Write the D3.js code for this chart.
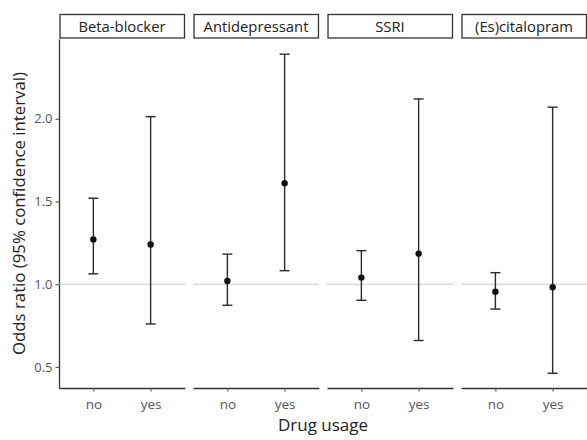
<!DOCTYPE html>
<html>
<head>
<meta charset="utf-8">
<script src="https://cdn.jsdelivr.net/npm/d3@7"></script>
<style>
  body { margin: 0; background: #fff; }
  text { font-family: "Open Sans", "Noto Sans", sans-serif; }
</style>
</head>
<body>
<div id="chart"></div>
<script>
const drugs = ['Beta-blocker', 'Antidepressant', 'SSRI', '(Es)citalopram'];
const usage = ['no', 'yes'];
// odds ratio and 95% CI per drug, in usage order (no, yes)
const oddsRatio = [[1.27, 1.24], [1.02, 1.61], [1.04, 1.185], [0.955, 0.982]];
const lowerCI  = [[1.063, 0.76], [0.873, 1.082], [0.903, 0.66], [0.85, 0.462]];
const upperCI  = [[1.52, 2.013], [1.182, 2.39], [1.203, 2.12], [1.07, 2.07]];
const yTicks = [0.5, 1.0, 1.5, 2.0];

const width = 587;
const height = 440;
const margin = { top: 39, right: 0, bottom: 52, left: 59 };

const svg = d3.select('#chart')
  .append('svg')
  .attr('width', width)
  .attr('height', height);

const facet = d3.scaleBand()
  .domain(drugs)
  .range([margin.left, width - margin.right])
  .paddingInner(0.06)
  .paddingOuter(0);

const x = d3.scalePoint()
  .domain(usage)
  .range([0, facet.bandwidth()])
  .padding(0.6);

const y = d3.scaleLinear()
  .domain([0.373, 2.482])
  .range([height - margin.bottom, margin.top]);

const axisColor = '#333';
const barColor = '#2b2b2b';

// y axis on the first panel only
const yAxis = svg.append('g')
  .attr('transform', 'translate(' + margin.left + ',0)')
  .call(d3.axisLeft(y).tickValues(yTicks).tickFormat(d3.format('.1f'))
    .tickSize(3.5).tickSizeOuter(0).tickPadding(3));
yAxis.select('.domain').attr('stroke', axisColor).attr('stroke-width', 1.3);
yAxis.selectAll('.tick line').attr('stroke', '#555').attr('stroke-width', 1.1);
yAxis.selectAll('.tick text').attr('fill', '#555').style('font-size', '13px');

const data = [];
drugs.forEach((d, i) => {
  usage.forEach((u, j) => {
    data.push({ drug: d, usage: u, or: oddsRatio[i][j], lo: lowerCI[i][j], hi: upperCI[i][j] });
  });
});

drugs.forEach(drug => {
  const g = svg.append('g')
    .attr('transform', 'translate(' + facet(drug) + ',0)');

  // strip label
  g.append('rect')
    .attr('x', 1)
    .attr('y', 14.5)
    .attr('width', facet.bandwidth() - 1.5)
    .attr('height', 23.5)
    .attr('fill', '#fff')
    .attr('stroke', axisColor)
    .attr('stroke-width', 1.3);
  g.append('text')
    .attr('x', facet.bandwidth() / 2)
    .attr('y', 31.5)
    .attr('text-anchor', 'middle')
    .attr('fill', '#222')
    .style('font-size', '14.8px')
    .text(drug);

  // reference line at OR = 1
  g.append('line')
    .attr('x1', 0)
    .attr('x2', facet.bandwidth())
    .attr('y1', y(1))
    .attr('y2', y(1))
    .attr('stroke', '#d3c6c9')
    .attr('stroke-width', 1.2);

  // x axis
  const xa = g.append('g')
    .attr('transform', 'translate(0,' + (height - margin.bottom) + ')')
    .call(d3.axisBottom(x).tickSize(3.5).tickSizeOuter(0).tickPadding(8));
  xa.select('.domain').attr('stroke', axisColor).attr('stroke-width', 1.3);
  xa.selectAll('.tick line').attr('stroke', '#555').attr('stroke-width', 1.1);
  xa.selectAll('.tick text').attr('fill', '#555').style('font-size', '13.5px');

  const rows = data.filter(d => d.drug === drug);
  const cap = 5;

  g.selectAll('.ci')
    .data(rows)
    .join('line')
    .attr('x1', d => x(d.usage))
    .attr('x2', d => x(d.usage))
    .attr('y1', d => y(d.lo))
    .attr('y2', d => y(d.hi))
    .attr('stroke', barColor)
    .attr('stroke-width', 1.4);

  g.selectAll('.capHi')
    .data(rows)
    .join('line')
    .attr('x1', d => x(d.usage) - cap)
    .attr('x2', d => x(d.usage) + cap)
    .attr('y1', d => y(d.hi))
    .attr('y2', d => y(d.hi))
    .attr('stroke', barColor)
    .attr('stroke-width', 1.4);

  g.selectAll('.capLo')
    .data(rows)
    .join('line')
    .attr('x1', d => x(d.usage) - cap)
    .attr('x2', d => x(d.usage) + cap)
    .attr('y1', d => y(d.lo))
    .attr('y2', d => y(d.lo))
    .attr('stroke', barColor)
    .attr('stroke-width', 1.4);

  g.selectAll('circle')
    .data(rows)
    .join('circle')
    .attr('cx', d => x(d.usage))
    .attr('cy', d => y(d.or))
    .attr('r', 3.2)
    .attr('fill', '#111');
});

// axis titles
svg.append('text')
  .attr('x', (margin.left + width) / 2)
  .attr('y', 431)
  .attr('text-anchor', 'middle')
  .attr('fill', '#222')
  .style('font-size', '17px')
  .text('Drug usage');

svg.append('text')
  .attr('transform', 'rotate(-90)')
  .attr('x', -(margin.top + height - margin.bottom) / 2)
  .attr('y', 25)
  .attr('text-anchor', 'middle')
  .attr('fill', '#222')
  .style('font-size', '16.8px')
  .text('Odds ratio (95% confidence interval)');
</script>
</body>
</html>
